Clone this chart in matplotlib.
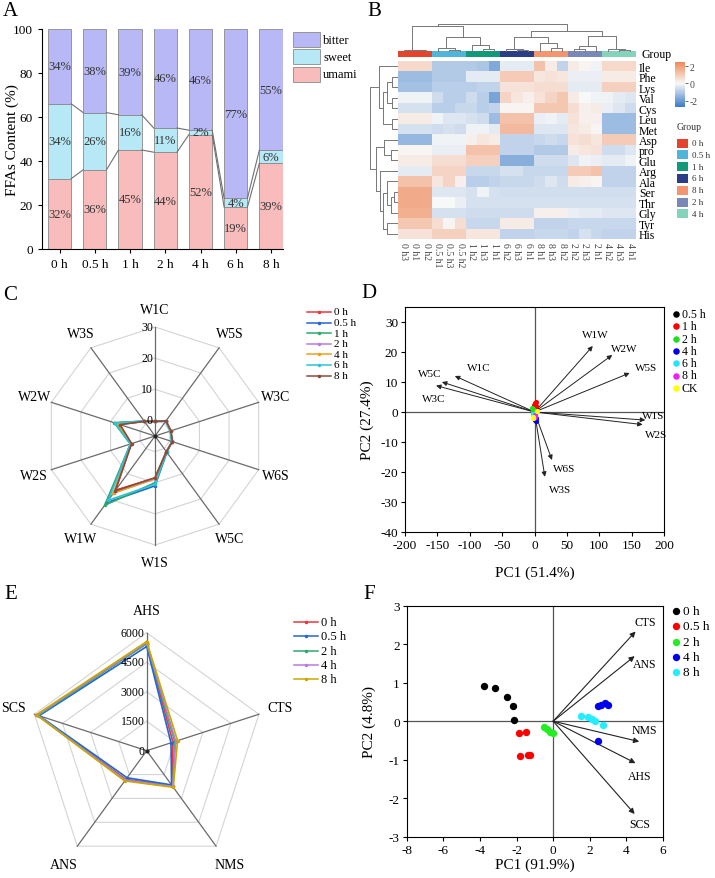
import numpy as np
import matplotlib
matplotlib.use('Agg')
import matplotlib.pyplot as plt
from matplotlib.colors import LinearSegmentedColormap, ListedColormap, Normalize

plt.rcParams['font.family'] = ['Liberation Serif', 'DejaVu Serif']
plt.rcParams['axes.unicode_minus'] = False
plt.rcParams['font.size'] = 8

# ------------------------------------------------------------------ data
# Panel A
times_A = ['0 h', '0.5 h', '1 h', '2 h', '4 h', '6 h', '8 h']
umami = [32, 36, 45, 44, 52, 19, 39]
sweet = [34, 26, 16, 11, 2, 4, 6]
bitter = [34, 38, 39, 46, 46, 77, 55]

# Panel B
hm_rows = ['Ile', 'Phe', 'Lys', 'Val', 'Cys', 'Leu', 'Met', 'Asp', 'pro', 'Glu',
           'Arg', 'Ala', 'Ser', 'Thr', 'Gly', 'Tyr', 'His']
hm_cols = ['0 h3', '0 h1', '0 h2', '0.5 h1', '0.5 h3', '0.5 h2', '1 h2', '1 h3', '1 h1',
           '6 h2', '6 h3', '6 h1', '8 h1', '8 h3', '8 h2', '2 h2', '2 h3', '2 h1',
           '4 h2', '4 h3', '4 h1']
hm_col_group = ['0 h', '0 h', '0 h', '0.5 h', '0.5 h', '0.5 h', '1 h', '1 h', '1 h',
                '6 h', '6 h', '6 h', '8 h', '8 h', '8 h', '2 h', '2 h', '2 h',
                '4 h', '4 h', '4 h']
group_names = ['0 h', '0.5 h', '1 h', '6 h', '8 h', '2 h', '4 h']
group_colors = ['#e5432e', '#4fb6da', '#119a78', '#2b3d86', '#f4956f', '#7a88b8', '#84d3bb']
hm_values = [
    [0.7, 0.7, 0.7, -1.0, -1.0, -1.0, -1.0, -1.1, -1.7, -0.3, -0.3, -0.3, 1.2, 0.3, -0.8, 0.3, 0.1, -0.1, 0.7, 0.7, 0.7],
    [-1.3, -1.3, -1.3, -1.0, -1.0, -1.0, -0.3, -0.3, -0.3, 1.0, 1.0, 1.0, 0.4, 0.5, 0.4, -0.2, -0.2, -0.2, 0.3, 0.3, 0.3],
    [-1.2, -1.2, -1.2, -0.9, -0.9, -0.9, -0.9, -0.8, -0.8, 0.5, 0.5, 0.5, 0.6, 0.6, 0.6, -0.3, -0.3, -0.3, 0.9, 0.9, 0.9],
    [-0.1, -0.1, -0.1, -0.6, -0.9, -0.9, -0.6, -0.9, -1.8, 0.8, 0.4, 0.2, 0.5, 0.8, 1.1, 0.3, 0.0, -0.1, -0.1, -0.3, -0.4],
    [-0.5, -0.5, -0.5, -0.9, -0.9, -0.7, -0.7, -0.9, -0.8, 0.1, 0.1, 0.1, 1.1, 1.1, 1.1, 0.6, 0.2, 0.3, -0.2, -0.4, -0.6],
    [0.3, 0.3, 0.3, -0.1, -0.4, -0.4, -0.5, -0.6, -1.3, 1.2, 1.2, 1.2, -0.2, -0.1, -0.3, 0.5, 0.2, 0.2, -1.3, -1.3, -1.3],
    [-0.5, -0.5, -0.5, -0.6, -0.5, -0.6, -0.1, -0.1, -0.3, 1.4, 1.4, 1.4, -0.4, -0.4, -0.4, 0.4, 0.3, 0.1, -1.3, -1.3, -1.3],
    [-1.4, -1.4, -1.4, -0.1, -0.1, -0.1, 0.2, 0.4, 0.3, -0.8, -0.8, -0.8, -0.7, -0.6, -0.7, 0.5, 0.6, 0.4, 1.0, 1.0, 1.0],
    [0.1, 0.1, 0.1, -0.2, -0.2, -0.2, 1.2, 1.2, 1.2, -0.8, -0.8, -0.8, -1.0, -1.0, -1.0, 0.3, 0.4, 0.5, -0.6, -0.6, -0.4],
    [0.3, 0.3, 0.3, 0.6, 0.6, 0.6, 0.9, 0.9, 0.9, -1.6, -1.6, -1.6, -0.6, -0.6, -0.6, -0.4, -0.1, -0.2, -0.3, -0.3, -0.1],
    [-0.3, -0.3, -0.3, 0.8, 0.8, 0.8, -0.7, -0.7, -0.7, -0.5, -0.5, -0.7, -0.7, -0.7, -0.7, 1.0, 1.0, 1.2, -0.8, -0.8, -0.8],
    [1.2, 1.2, 1.2, 0.4, 0.8, 0.2, -0.9, -0.9, -0.8, -0.7, -0.7, -0.7, -0.6, -0.4, -0.6, 0.3, 0.2, 0.1, -0.8, -0.8, -0.8],
    [1.7, 1.7, 1.7, -0.4, -0.4, -0.4, -0.5, -0.1, -0.5, -0.55, -0.55, -0.55, -0.55, -0.55, -0.55, -0.55, -0.55, -0.55, -0.55, -0.55, -0.55],
    [1.7, 1.7, 1.7, 0.0, 0.0, -0.2, -0.5, -0.5, -0.5, -0.5, -0.5, -0.5, -0.5, -0.5, -0.5, -0.5, -0.5, -0.5, -0.5, -0.5, -0.5],
    [1.6, 1.6, 1.6, -0.5, -0.5, -0.5, -0.6, -0.6, -0.6, -0.6, -0.6, -0.6, 0.2, 0.2, 0.2, -0.2, -0.3, -0.3, -0.4, -0.4, -0.4],
    [1.1, 1.1, 1.1, 0.6, 0.1, 0.6, -0.7, -0.7, -0.7, 0.3, 0.3, 0.3, -0.8, -0.8, -0.8, -0.7, -0.7, -0.7, -0.7, -0.7, -0.7],
    [0.5, 0.5, 0.5, 0.9, 0.9, 0.9, 0.4, 0.4, 0.4, -0.8, -0.8, -0.8, -0.7, -0.7, -0.7, -0.8, -0.5, -0.7, -0.8, -0.8, -0.8],
]
# dendrogram trees: (left, right, merge height); leaves are indices
col_tree = (((0, (1, 2, 2), 4), ((3, (4, 5, 3), 10), (6, (7, 8, 6), 17), 42), 74),
            (((9, (10, 11, 3), 7), (12, (13, 14, 8), 24), 42),
             (((15, 16, 5), 17, 14), (18, (19, 20, 4), 7), 44), 60), 82)
row_tree = ((0, (((1, 2, 15), (3, 4, 15), 30), (5, 6, 15), 45), 57),
            ((7, (8, 9, 20), 40),
             (10, ((11, ((12, 13, 10), 14, 20), 30), (15, 16, 30), 45), 52), 67), 85)

# Panel C (E-nose radar)
sensors_C = ['W1C', 'W5S', 'W3C', 'W6S', 'W5C', 'W1S', 'W1W', 'W2S', 'W2W', 'W3S']
series_C = ['0 h', '0.5 h', '1 h', '2 h', '4 h', '6 h', '8 h']
colors_C = ['#e8383d', '#2166d6', '#2fa86e', '#b77be0', '#e8a21c', '#2fc4d4', '#8c4a3c']
values_C = [
    [-0.3, 1.0, 0.3, 0.8, 1.2, 8.5, 16.5, 3.0, 7.0, 0.8],
    [-0.3, 0.9, 0.2, 0.7, 1.5, 11.0, 21.5, 3.2, 8.5, 0.9],
    [-0.3, 0.9, 0.2, 0.7, 1.4, 10.0, 22.5, 3.3, 8.8, 0.9],
    [-0.3, 1.0, 0.3, 0.8, 1.2, 8.8, 17.5, 3.0, 7.3, 0.8],
    [-0.3, 1.0, 0.3, 0.8, 1.2, 8.6, 17.8, 3.1, 7.5, 0.8],
    [-0.3, 0.9, 0.2, 0.7, 1.4, 10.5, 20.5, 3.3, 8.6, 0.9],
    [-0.3, 1.0, 0.4, 0.9, 1.2, 8.4, 16.8, 2.9, 6.8, 0.8],
]

# Panel D (E-nose PCA)
loadings_D_names = ['W1W', 'W2W', 'W5S', 'W1S', 'W2S', 'W6S', 'W3S', 'W1C', 'W5C', 'W3C']
loadings_D_x = [90, 120, 147, 171, 167, 27, 16, -123, -143, -152]
loadings_D_y = [22, 19, 13, -2.7, -4.2, -16, -21.6, 12, 10, 8.8]
groups_D = ['0.5 h', '1 h', '2 h', '4 h', '6 h', '8 h', 'CK']
colors_D = ['#000000', '#ff0000', '#22dd22', '#0000ee', '#22e5ff', '#ee22ee', '#ffff00']
scores_D_x = [[2, 3, 1], [0, 2, -1, 3], [-3, -4, -2], [1, 2, 3], [-1, -2, 0], [0, -1, 1], [-3, 4, -2]]
scores_D_y = [[1, 0.5, 1.5], [3, 3.5, 2.5, 2], [1, 1.5, 0.5], [-2.5, -3, -2], [-1, -0.5, -0.5], [-1.5, -2, -1], [-1.5, 0.5, -2]]

# Panel E (E-tongue radar)
sensors_E = ['AHS', 'CTS', 'NMS', 'ANS', 'SCS']
series_E = ['0 h', '0.5 h', '2 h', '4 h', '8 h']
colors_E = ['#e8383d', '#2166d6', '#2fa86e', '#b77be0', '#c9a800']
values_E = [
    [5450, 1400, 2200, 1800, 5850],
    [5300, 1300, 2150, 1700, 5750],
    [5450, 1500, 2250, 1850, 5800],
    [5500, 1550, 2250, 1850, 5850],
    [5550, 1650, 2300, 1900, 5900],
]

# Panel F (E-tongue PCA)
loadings_F_names = ['CTS', 'ANS', 'NMS', 'AHS', 'SCS']
loadings_F_x = [4.5, 4.45, 4.7, 4.5, 4.45]
loadings_F_y = [2.33, 1.69, -0.53, -1.09, -2.41]
groups_F = ['0 h', '0.5 h', '2 h', '4 h', '8 h']
colors_F = ['#000000', '#ff0000', '#22ee22', '#0000ee', '#22eeff']
scores_F_x = [[-3.76, -3.18, -2.54, -2.21, -2.14],
              [-1.85, -1.5, -1.8, -1.36, -1.29],
              [-0.5, -0.35, -0.17, 0.0],
              [2.47, 2.6, 2.85, 2.98, 2.47],
              [1.52, 1.9, 2.1, 2.3, 2.7]]
scores_F_y = [[0.91, 0.85, 0.62, 0.39, 0.04],
              [-0.31, -0.27, -0.9, -0.88, -0.87],
              [-0.16, -0.2, -0.27, -0.3],
              [0.39, 0.42, 0.47, 0.43, -0.52],
              [0.14, 0.1, 0.05, 0.0, -0.1]]

# ------------------------------------------------------------------ figure
W, H = 715, 879
fig = plt.figure(figsize=(W / 100, H / 100), dpi=100)


def ax_px(l, t, r, b, **kw):
    return fig.add_axes([l / W, 1 - b / H, (r - l) / W, (b - t) / H], **kw)


ov = ax_px(0, 0, W, H)
ov.set_xlim(0, W)
ov.set_ylim(H, 0)
ov.axis('off')
ov.set_zorder(10)

for letter, (lx, ly) in zip('ABCDEF', [(10, 12), (374, 11), (10, 296), (369, 294), (11, 595), (369, 595)]):
    ov.text(lx, ly, letter, fontsize=15, ha='center', va='center')

TICK = 9.5
LAB = 11

# ------------------------------------------------------------------ A
axA = ax_px(42, 30, 283, 250)
xA = np.arange(len(times_A))
wA = 0.66
u = np.array(umami, float)
s = np.array(sweet, float)
b = np.array(bitter, float)
axA.bar(xA, u, wA, color='#f9bcbc', edgecolor='#8a8a8a', lw=0.6, zorder=2)
axA.bar(xA, s, wA, bottom=u, color='#b6e8f6', edgecolor='#8a8a8a', lw=0.6, zorder=2)
axA.bar(xA, b, wA, bottom=u + s, color='#b8b8f6', edgecolor='#8a8a8a', lw=0.6, zorder=2)
for cum in (u, u + s):
    for i in range(len(xA) - 1):
        axA.plot([xA[i] + wA / 2, xA[i + 1] - wA / 2], [cum[i], cum[i + 1]],
                 color='#707070', lw=0.8, zorder=3)
for i in range(len(xA)):
    axA.text(xA[i], u[i] / 2, f'{umami[i]}%', ha='center', va='center', fontsize=9, color='#333')
    axA.text(xA[i], u[i] + s[i] / 2, f'{sweet[i]}%', ha='center', va='center', fontsize=9, color='#333')
    axA.text(xA[i], (u[i] + s[i] + 100) / 2, f'{bitter[i]}%', ha='center', va='center', fontsize=9, color='#333')
axA.set_xlim(-0.5, 6.34)
axA.set_ylim(0, 100)
axA.set_yticks([0, 20, 40, 60, 80, 100])
axA.set_xticks(xA)
axA.set_xticklabels(times_A)
axA.tick_params(labelsize=TICK, direction='out', length=3, width=0.8)
axA.spines['top'].set_visible(False)
axA.spines['right'].set_visible(False)
axA.set_ylabel('FFAs Content (%)', fontsize=LAB)
axA.yaxis.set_label_coords(-0.095, 0.5)
# legend A
for j, (nm, col) in enumerate(zip(['bitter', 'sweet', 'umami'], ['#b8b8f6', '#b6e8f6', '#f9bcbc'])):
    y0 = 33 + j * 17.3
    ov.add_patch(plt.Rectangle((292.5, y0), 27.5, 15, facecolor=col, edgecolor='#8a8a8a', lw=0.6))
    ov.text(323, y0 + 7.5, nm, fontsize=9, va='center', ha='left')

# ------------------------------------------------------------------ B
hm = np.array(hm_values)
cmap = LinearSegmentedColormap.from_list('hm', [(0, '#3b7bc8'), (0.523, '#f8f8f8'), (1, '#f08a5a')])
norm = Normalize(-2.7, 2.46)
axH = ax_px(398, 62, 636, 240)
axH.pcolormesh(np.arange(hm.shape[1] + 1), np.arange(hm.shape[0] + 1), hm, cmap=cmap, norm=norm)
axH.set_xlim(0, hm.shape[1])
axH.set_ylim(hm.shape[0], 0)
axH.set_xticks(np.arange(hm.shape[1]) + 0.5)
axH.set_xticklabels(hm_cols, rotation=270, fontsize=7, color='#444')
axH.set_yticks(np.arange(hm.shape[0]) + 0.5)
axH.set_yticklabels(hm_rows, fontsize=8.5)
axH.yaxis.tick_right()
axH.tick_params(length=0, pad=2)
for sp in axH.spines.values():
    sp.set_visible(False)

# group bar
axG = ax_px(398, 52, 636, 57.5)
gidx = np.array([[group_names.index(g) for g in hm_col_group]])
axG.pcolormesh(np.arange(len(hm_cols) + 1), [0, 1], gidx, cmap=ListedColormap(group_colors),
               vmin=-0.5, vmax=len(group_names) - 0.5)
axG.axis('off')
ov.text(641, 55, 'Group', fontsize=8.5, va='center', ha='left')


def draw_tree(ax, node, orient):
    if isinstance(node, int):
        return node + 0.5, 0
    l, r, h = node
    xl, hl = draw_tree(ax, l, orient)
    xr, hr = draw_tree(ax, r, orient)
    xs = [xl, xl, xr, xr]
    hs = [hl, h, h, hr]
    if orient == 'top':
        ax.plot(xs, hs, color='#777', lw=0.7, clip_on=False)
    else:
        ax.plot(hs, xs, color='#777', lw=0.7, clip_on=False)
    return (xl + xr) / 2, h


axDT = ax_px(398, 24.5, 636, 52)
draw_tree(axDT, col_tree, 'top')
axDT.set_xlim(0, hm.shape[1])
axDT.set_ylim(0, 82)
axDT.axis('off')

axDL = ax_px(370, 62, 397, 240)
draw_tree(axDL, row_tree, 'left')
axDL.set_xlim(85, 0)
axDL.set_ylim(hm.shape[0], 0)
axDL.axis('off')

# colorbar
axCB = ax_px(675, 63, 685, 108)
axCB.pcolormesh([0, 1], np.linspace(-2.7, 2.46, 101), np.linspace(-2.7, 2.46, 100).reshape(-1, 1),
                cmap=cmap, norm=norm)
axCB.set_ylim(-2.7, 2.46)
axCB.set_xticks([])
axCB.yaxis.tick_right()
axCB.set_yticks([-2, 0, 2])
axCB.set_yticklabels(['-2', '0', '2'], fontsize=7, color='#444')
axCB.tick_params(axis='y', length=2, width=0.6, color='#555', pad=1)
for sp in axCB.spines.values():
    sp.set_visible(False)

ov.text(677, 128, 'Group', fontsize=7, va='center', ha='left', color='#333')
for j, (g, c) in enumerate(zip(group_names, group_colors)):
    yy = 144 + j * 11.8
    ov.add_patch(plt.Rectangle((677, yy - 4.5), 11, 9, facecolor=c, edgecolor='none'))
    ov.text(692, yy, g, fontsize=6.5, va='center', ha='left', color='#333')


# ------------------------------------------------------------------ radar helper
def radar(ax, labels, vals, names, colors, rmin, rmax, levels, lab_fac, ticklabels):
    n = len(labels)
    th = np.arange(n) * 2 * np.pi / n
    thc = np.append(th, th[0])
    ax.set_theta_offset(np.pi / 2)
    ax.set_theta_direction(-1)
    ax.set_ylim(rmin, rmax)
    ax.axis('off')
    for lv in levels:
        ax.plot(thc, [lv] * (n + 1), color='#d4d4d4', lw=0.8, clip_on=False, zorder=1)
    for t in th:
        ax.plot([t, t], [rmin, rmax], color='#6a6a6a', lw=0.9, clip_on=False, zorder=2)
    for v, nm, c in zip(vals, names, colors):
        vv = np.append(v, v[0])
        ax.plot(thc, vv, color=c, lw=1.2, marker='o', ms=1.5, label=nm, zorder=3, clip_on=False)
    ax.plot([0], [rmin], 'o', color='#222', ms=2, zorder=4)
    rl = rmin + lab_fac * (rmax - rmin)
    for t, lb in zip(th, labels):
        ax.text(t, rl, lb, ha='center', va='center', fontsize=10)
    for lv, tl in zip(levels, ticklabels):
        ax.annotate(tl, xy=(0, lv), xytext=(-1.5, 0), textcoords='offset points',
                    ha='right', va='center', fontsize=8.5, annotation_clip=False)


def line_legend(names, colors, x0, y0, dy, fs):
    for j, (nm, c) in enumerate(zip(names, colors)):
        yy = y0 + j * dy
        ov.plot([x0, x0 + 24], [yy, yy], color=c, lw=1.1)
        ov.plot([x0 + 12], [yy], 'o', color=c, ms=1.5)
        ov.text(x0 + 27, yy, nm, fontsize=fs, va='center', ha='left')


# ------------------------------------------------------------------ C
axC = ax_px(46, 328, 264, 546, projection='polar')
radar(axC, sensors_C, values_C, series_C, colors_C, -5, 30, [0, 10, 20, 30], 1.165,
      ['0', '10', '20', '30'])
line_legend(series_C, colors_C, 307, 313, 10.6, 8)

# ------------------------------------------------------------------ D
axD = ax_px(405, 308, 664, 533)
axD.axhline(0, color='#555', lw=0.9, zorder=1)
axD.axvline(0, color='#555', lw=0.9, zorder=1)
for lx, ly in zip(loadings_D_x, loadings_D_y):
    axD.annotate('', xy=(lx, ly), xytext=(0, 0),
                 arrowprops=dict(arrowstyle='-|>', color='#222', lw=0.7, mutation_scale=7,
                                 shrinkA=0, shrinkB=0))
lab_off_D = {'W1W': (2, 8), 'W2W': (9, 5), 'W5S': (12, 4), 'W1S': (6, 3), 'W2S': (10, -7),
             'W6S': (9, -6), 'W3S': (11, -9), 'W1C': (17, 6), 'W5C': (-9, 6), 'W3C': (-2, -9)}
for nm, lx, ly in zip(loadings_D_names, loadings_D_x, loadings_D_y):
    dx, dy = lab_off_D[nm]
    axD.annotate(nm, xy=(lx, ly), xytext=(dx, dy), textcoords='offset points',
                 ha='center', va='center', fontsize=8)
for gx, gy, c in zip(scores_D_x, scores_D_y, colors_D):
    axD.scatter(gx, gy, s=14, color=c, zorder=4, lw=0)
axD.set_xlim(-200, 200)
axD.set_ylim(-40, 35)
axD.set_xticks(range(-200, 201, 50))
axD.set_yticks(range(-40, 31, 10))
axD.tick_params(labelsize=TICK, direction='out', length=3, width=0.8, pad=2)
axD.set_xlabel('PC1 (51.4%)', fontsize=LAB)
axD.set_ylabel('PC2 (27.4%)', fontsize=LAB)
axD.xaxis.set_label_coords(0.5, -0.15)
axD.yaxis.set_label_coords(-0.118, 0.5)
for j, (g, c) in enumerate(zip(groups_D, colors_D)):
    yy = 315 + j * 12.3
    ov.scatter([675.5], [yy], s=22, color=c, lw=0)
    ov.text(682, yy, g, fontsize=8.5, va='center', ha='left')

# ------------------------------------------------------------------ E
axE = ax_px(28.7, 633.7, 264.7, 869.7, projection='polar')
radar(axE, sensors_E, values_E, series_E, colors_E, 0, 6000, [0, 1500, 3000, 4500, 6000], 1.19,
      ['0', '1500', '3000', '4500', '6000'])
line_legend(series_E, colors_E, 294, 623, 14.3, 9)

# ------------------------------------------------------------------ F
axF = ax_px(406.7, 606.7, 663, 837.7)
axF.axhline(0, color='#555', lw=0.9, zorder=1)
axF.axvline(0, color='#555', lw=0.9, zorder=1)
for lx, ly in zip(loadings_F_x, loadings_F_y):
    axF.annotate('', xy=(lx, ly), xytext=(0, 0),
                 arrowprops=dict(arrowstyle='-|>', color='#222', lw=0.8, mutation_scale=8,
                                 shrinkA=0, shrinkB=0))
lab_off_F = {'CTS': (7, 7), 'ANS': (7, -6), 'NMS': (4, 8), 'AHS': (3, -9), 'SCS': (4, -7)}
for nm, lx, ly in zip(loadings_F_names, loadings_F_x, loadings_F_y):
    dx, dy = lab_off_F[nm]
    axF.annotate(nm, xy=(lx, ly), xytext=(dx, dy), textcoords='offset points',
                 ha='center', va='center', fontsize=8.5)
for gx, gy, c in zip(scores_F_x, scores_F_y, colors_F):
    axF.scatter(gx, gy, s=28, color=c, zorder=4, lw=0)
axF.set_xlim(-8, 6)
axF.set_ylim(-3, 3)
axF.set_xticks(range(-8, 7, 2))
axF.set_yticks(range(-3, 4, 1))
axF.tick_params(labelsize=TICK, direction='out', length=3, width=0.8, pad=2)
axF.set_xlabel('PC1 (91.9%)', fontsize=LAB)
axF.set_ylabel('PC2 (4.8%)', fontsize=LAB)
axF.xaxis.set_label_coords(0.5, -0.088)
axF.yaxis.set_label_coords(-0.118, 0.5)
for j, (g, c) in enumerate(zip(groups_F, colors_F)):
    yy = 612 + j * 15.3
    ov.scatter([675.5], [yy], s=28, color=c, lw=0)
    ov.text(683, yy, g, fontsize=9.5, va='center', ha='left')

fig.savefig('out.png', dpi=100)
